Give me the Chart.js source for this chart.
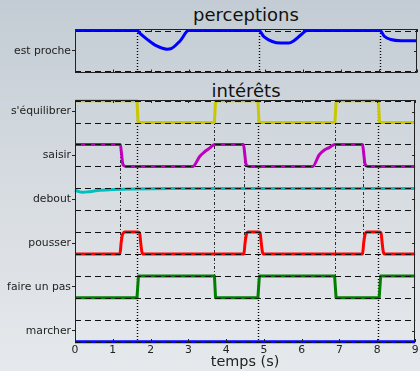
<!DOCTYPE html>
<html><head><meta charset="utf-8">
<script src="https://cdn.jsdelivr.net/npm/chart.js@4.4.1/dist/chart.umd.min.js"></script>
<style>
html,body{margin:0;padding:0;}
body{width:420px;height:371px;overflow:hidden;position:relative;background:linear-gradient(to bottom,#c3ccd4 0%,#d8dde2 55%,#e6e9ec 100%);font-family:"DejaVu Sans",sans-serif;}
canvas{position:absolute;left:0;top:0;}
.ttl{position:absolute;left:75px;width:342px;text-align:center;font-size:18px;color:#111;line-height:21px;}
</style></head>
<body>
<div class="ttl" style="top:4px">perceptions</div>
<div class="ttl" style="top:80px">intérêts</div>
<canvas id="c1" width="420" height="80"></canvas>
<canvas id="c2" width="420" height="371"></canvas>
<script>
// ---------- DATA ----------
const xTicks = [0,1,2,3,4,5,6,7,8,9];
const perceptionLabels = ["est proche"];
const interetLabels = ["marcher","faire un pas","pousser","debout","saisir","s'équilibrer"]; // bottom -> top

// est proche (perception, 0..1)
const estProcheT = [0,1.64,1.71,1.89,2.15,2.42,2.52,2.77,2.99,4.84,4.97,5.19,5.41,5.63,5.76,5.94,6.11,8.03,8.14,8.31,8.58,8.93,9];
const estProcheV = [1,1,0.93,0.79,0.62,0.54,0.55,0.75,1,1,0.85,0.73,0.69,0.69,0.75,0.89,1,1,0.86,0.78,0.75,0.75,0.75];

// intérêts (each 0..1 within its own row)
const equilibrerT = [0,1.64,1.67,3.69,3.72,4.84,4.87,6.88,6.91,8.03,8.06,9];
const equilibrerV = [1,1,0,0,1,1,0,0,1,1,0,0];

const saisirT = [0,1.2,1.23,1.26,1.3,1.34,3.12,3.3,3.4,3.5,3.56,3.69,4.46,4.49,4.52,4.56,4.6,6.29,6.46,6.6,6.73,6.88,7.61,7.64,7.67,7.71,7.75,9];
const saisirV = [1,1,0.6,0.15,0.03,0,0,0.45,0.62,0.76,0.83,1,1,0.6,0.15,0.03,0,0,0.52,0.75,0.86,1,1,0.6,0.15,0.03,0,0];

const deboutT = [0,0.1,0.2,0.35,0.6,1.0,1.5,2.5,9];
const deboutV = [0.92,0.85,0.82,0.84,0.9,0.94,0.97,0.99,0.99];

const pousserT = [0,1.19,1.22,1.25,1.29,1.33,1.67,1.71,1.74,1.77,1.81,4.47,4.5,4.53,4.56,4.59,4.86,4.9,4.93,4.96,5.0,7.61,7.64,7.67,7.7,7.73,8.06,8.1,8.13,8.16,8.2,9];
const pousserV = [0,0,0.5,0.85,0.98,1,1,0.95,0.5,0.1,0,0,0.5,0.85,0.98,1,1,0.95,0.5,0.1,0,0,0.5,0.85,0.98,1,1,0.95,0.5,0.1,0,0];

const fairePasT = [0,1.64,1.68,3.69,3.72,4.84,4.88,6.87,6.91,8.05,8.09,9];
const fairePasV = [0,0,1,1,0,0,1,1,0,0,1,1];

const marcherT = [0,9];
const marcherV = [0,0];

// event times (vertical dotted lines)
const eventsMajor = [1.64,4.84,8.03];
const eventsMid = [3.69,6.88];
const eventsMinor = [1.2,4.46,7.61];

// ---------- HELPERS ----------
function pts(ts, vs, off){ return ts.map((t,i)=>({x:t, y:vs[i]+off})); }
const FONT = "DejaVu Sans";
const TXT = "#222";

const overlay = {
  id:'overlay',
  beforeDatasetsDraw(chart, args, o){
    const {ctx, chartArea:a, scales:{x,y}} = chart;
    ctx.save();
    ctx.beginPath(); ctx.rect(a.left,a.top,a.width,a.height); ctx.clip();
    for (const g of o.vlines){
      ctx.setLineDash(g.dash); ctx.strokeStyle=g.color; ctx.lineWidth=g.width;
      for (const t of g.times){
        const px = Math.round(x.getPixelForValue(t))+0.5;
        ctx.beginPath(); ctx.moveTo(px, Math.round(y.getPixelForValue(g.y1))); ctx.lineTo(px, Math.round(y.getPixelForValue(g.y0))); ctx.stroke();
      }
    }
    ctx.restore();
  },
  afterDatasetsDraw(chart, args, o){
    const {ctx, chartArea:a, scales:{x,y}} = chart;
    ctx.save();
    ctx.beginPath(); ctx.rect(a.left-1,a.top-1,a.width+2,a.height+2); ctx.clip();
    ctx.setLineDash([6,4]); ctx.lineWidth=1.2; ctx.strokeStyle='#111';
    for (const lv of o.levels){
      const py = Math.round(y.getPixelForValue(lv))+0.5;
      ctx.beginPath(); ctx.moveTo(a.left,py); ctx.lineTo(a.right,py); ctx.stroke();
    }
    ctx.restore();
    ctx.save();
    ctx.setLineDash([]); ctx.strokeStyle='#222'; ctx.lineWidth=1;
    ctx.strokeRect(Math.round(a.left)+0.5, Math.round(a.top)+0.5, Math.round(a.width)-1, Math.round(a.height)-1);
    ctx.beginPath();
    for (const t of xTicks){
      const px = Math.round(x.getPixelForValue(t))+0.5;
      ctx.moveTo(px,a.bottom); ctx.lineTo(px,a.bottom-3);
      ctx.moveTo(px,a.top); ctx.lineTo(px,a.top+3);
    }
    for (const v of o.yticks){
      const py = Math.round(y.getPixelForValue(v))+0.5;
      ctx.moveTo(a.right,py); ctx.lineTo(a.right-3,py);
    }
    ctx.stroke();
    ctx.restore();
  }
};

function baseScales(opts){
  return {
    x:{type:'linear', min:0, max:9,
       afterFit:s=>{s.height=opts.xh;},
       afterBuildTicks:s=>{s.ticks=xTicks.map(v=>({value:v}));},
       grid:{display:false, drawTicks:false}, border:{display:false},
       ticks:{display:opts.xlabels, padding:1.5, color:TXT, font:{family:FONT,size:10.8}, maxRotation:0},
       title:{display:!!opts.xtitle, text:opts.xtitle||'', color:TXT, padding:{top:0,bottom:0}, font:{family:FONT,size:14.4,lineHeight:1.25}}
    },
    y:{type:'linear', min:opts.ymin, max:opts.ymax,
       afterFit:s=>{s.width=75;},
       afterBuildTicks:s=>{s.ticks=opts.yticks.map(v=>({value:v}));},
       grid:{display:true, drawOnChartArea:false, drawTicks:true, tickLength:3, tickColor:'#222', lineWidth:1},
       border:{display:false},
       ticks:{padding:1, color:TXT, font:{family:FONT,size:10.8}, callback:opts.ycb}
    }
  };
}

function ds(data, color, mono){
  return {data, borderColor:color, borderWidth:3, pointRadius:0, fill:false, clip:3,
          cubicInterpolationMode: mono?'monotone':'default', tension:0, borderCapStyle:'butt', borderJoinStyle:'round'};
}

// ---------- TOP CHART ----------
new Chart(document.getElementById('c1'), {
  type:'line',
  data:{datasets:[ ds(pts(estProcheT, estProcheV, 0), '#0000ff', true) ]},
  options:{
    responsive:false, animation:false, events:[],
    layout:{padding:{top:29,left:0,right:3,bottom:0}},
    plugins:{legend:{display:false}, tooltip:{enabled:false},
      overlay:{levels:[0,1], yticks:[0.5],
        vlines:[{times:eventsMajor, y0:-0.1, y1:1.1, dash:[1,2], color:'#000', width:1.4}]}},
    scales: baseScales({xh:7, xlabels:false, ymin:-0.04, ymax:1.04, yticks:[0.5], ycb:()=>perceptionLabels[0]})
  },
  plugins:[overlay]
});

// ---------- BOTTOM CHART ----------
const rowTicks = interetLabels.map((_,i)=>2*i+0.5);
const levels = []; for (let i=0;i<interetLabels.length;i++){ levels.push(2*i, 2*i+1); }
new Chart(document.getElementById('c2'), {
  type:'line',
  data:{datasets:[
    ds(pts(marcherT, marcherV, 0), '#0000ff', false),
    ds(pts(fairePasT, fairePasV, 2), '#008000', false),
    ds(pts(pousserT, pousserV, 4), '#ff0000', true),
    ds(pts(deboutT, deboutV, 6), '#00bfbf', true),
    ds(pts(saisirT, saisirV, 8), '#bf00bf', true),
    ds(pts(equilibrerT, equilibrerV, 10), '#c8c800', false)
  ]},
  options:{
    responsive:false, animation:false, events:[],
    layout:{padding:{top:100,left:0,right:3,bottom:0}},
    plugins:{legend:{display:false}, tooltip:{enabled:false},
      overlay:{levels, yticks:rowTicks,
        vlines:[
          {times:eventsMajor, y0:-0.5, y1:11.5, dash:[1,2], color:'#000', width:1.4},
          {times:eventsMid, y0:2, y1:11.5, dash:[3,2,1,2], color:'rgba(0,0,0,0.8)', width:1},
          {times:eventsMinor, y0:4, y1:9, dash:[3,2,1,2], color:'rgba(0,0,0,0.8)', width:1}
        ]}},
    scales: baseScales({xh:29, xlabels:true, xtitle:'temps (s)', ymin:-0.015, ymax:11.03, yticks:rowTicks,
      ycb:(v)=>interetLabels[Math.round((v-0.5)/2)]})
  },
  plugins:[overlay]
});
</script>
</body></html>
